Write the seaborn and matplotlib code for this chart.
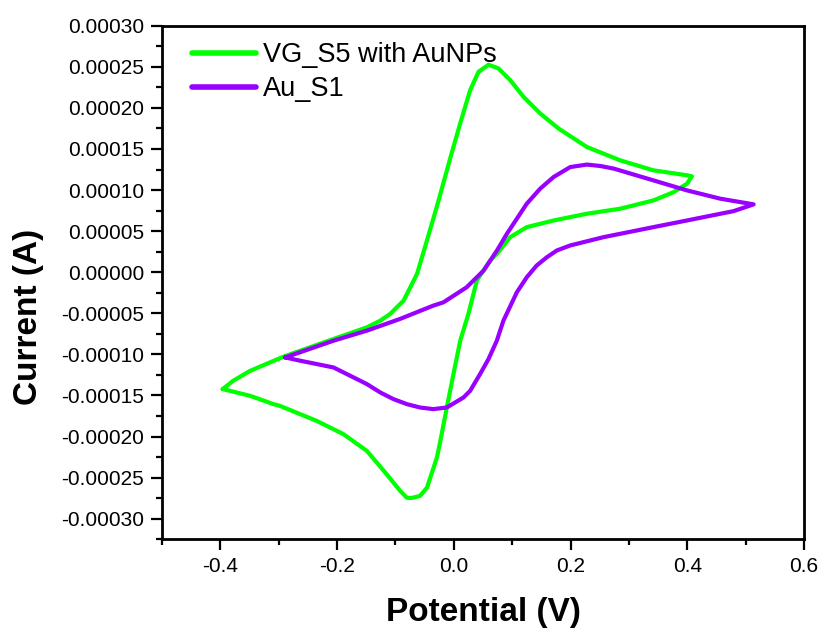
import numpy as np
import pandas as pd
import matplotlib
matplotlib.use("Agg")
import matplotlib.pyplot as plt
import seaborn as sns
from matplotlib.ticker import MultipleLocator, FuncFormatter

# ---- data (potential in V, current in A) ----
vg_potential = [-0.396, -0.378, -0.349, -0.292, -0.206, -0.149, -0.126, -0.109, -0.086, -0.063,
                -0.046, -0.029, -0.0063, 0.0109, 0.028, 0.0423, 0.0595, 0.0766, 0.0966, 0.1195,
                0.148, 0.1795, 0.228, 0.285, 0.342, 0.3995, 0.408,
                0.3995, 0.377, 0.342, 0.285, 0.228, 0.171, 0.125, 0.0966, 0.074, 0.0623,
                0.0395, 0.025, 0.011, -0.0006, -0.012, -0.023, -0.029, -0.046, -0.058, -0.073,
                -0.0805, -0.092, -0.115, -0.149, -0.189, -0.235, -0.298, -0.309, -0.349, -0.396]
vg_current = [-1.422e-4, -1.321e-4, -1.20e-4, -1.028e-4, -0.812e-4, -0.671e-4, -0.589e-4, -0.507e-4, -0.345e-4, -0.02e-4,
              0.387e-4, 0.80e-4, 1.383e-4, 1.81e-4, 2.216e-4, 2.439e-4, 2.525e-4, 2.48e-4, 2.338e-4, 2.134e-4,
              1.932e-4, 1.749e-4, 1.524e-4, 1.362e-4, 1.24e-4, 1.18e-4, 1.167e-4,
              1.078e-4, 0.976e-4, 0.874e-4, 0.773e-4, 0.712e-4, 0.63e-4, 0.549e-4, 0.427e-4, 0.224e-4, 0.143e-4,
              -0.10e-4, -0.507e-4, -0.833e-4, -1.239e-4, -1.646e-4, -2.052e-4, -2.256e-4, -2.622e-4, -2.723e-4, -2.748e-4,
              -2.744e-4, -2.66e-4, -2.459e-4, -2.174e-4, -1.971e-4, -1.809e-4, -1.626e-4, -1.605e-4, -1.504e-4, -1.422e-4]

au_potential = [-0.289, -0.206, -0.149, -0.092, -0.035, -0.0177, 0.022, 0.051, 0.074, 0.091,
                0.125, 0.148, 0.171, 0.1995, 0.228, 0.251, 0.274, 0.342, 0.3995, 0.4566, 0.5137,
                0.4795, 0.3995, 0.342, 0.2566, 0.1995, 0.1766, 0.1595, 0.142, 0.125, 0.108, 0.085,
                0.0737, 0.0595, 0.045, 0.028, 0.0166, -0.012, -0.035, -0.058, -0.0805, -0.1035,
                -0.126, -0.149, -0.206, -0.263, -0.289]
au_current = [-1.037e-4, -0.833e-4, -0.711e-4, -0.568e-4, -0.406e-4, -0.366e-4, -0.183e-4, 0.02e-4, 0.265e-4, 0.468e-4,
              0.834e-4, 1.017e-4, 1.159e-4, 1.28e-4, 1.31e-4, 1.293e-4, 1.261e-4, 1.118e-4, 0.996e-4, 0.895e-4, 0.826e-4,
              0.744e-4, 0.63e-4, 0.549e-4, 0.427e-4, 0.326e-4, 0.265e-4, 0.183e-4, 0.082e-4, -0.061e-4, -0.244e-4, -0.589e-4,
              -0.833e-4, -1.056e-4, -1.239e-4, -1.443e-4, -1.524e-4, -1.646e-4, -1.666e-4, -1.646e-4, -1.605e-4, -1.544e-4,
              -1.463e-4, -1.361e-4, -1.159e-4, -1.077e-4, -1.037e-4]

series_names = ["VG_S5 with AuNPs", "Au_S1"]
series_colors = ["#00ff00", "#9900ff"]

# ---- figure ----
sns.set_style("ticks")
plt.rcParams['font.family'] = ['Liberation Sans', 'DejaVu Sans']
plt.rcParams['axes.unicode_minus'] = False
for k in ['text.color', 'axes.labelcolor', 'xtick.color', 'ytick.color', 'axes.edgecolor']:
    plt.rcParams[k] = 'black'

fig = plt.figure(figsize=(8.21, 6.32), dpi=100)
ax = fig.add_axes([0.1973, 0.1467, 0.782, 0.8126])

df = pd.concat([
    pd.DataFrame({"Potential": vg_potential, "Current": vg_current, "series": series_names[0]}),
    pd.DataFrame({"Potential": au_potential, "Current": au_current, "series": series_names[1]}),
], ignore_index=True)

sns.lineplot(data=df, x="Potential", y="Current", hue="series", units="series",
             estimator=None, sort=False, palette=dict(zip(series_names, series_colors)),
             linewidth=3, ax=ax, legend=True)
for ln in ax.get_lines():
    ln.set_solid_joinstyle("round")
    ln.set_solid_capstyle("round")

ax.set_xlim(-0.5, 0.6)
ax.set_ylim(-0.000325, 0.0003)
ax.xaxis.set_major_locator(MultipleLocator(0.2))
ax.xaxis.set_minor_locator(MultipleLocator(0.1))
ax.yaxis.set_major_locator(MultipleLocator(0.00005))
ax.yaxis.set_minor_locator(MultipleLocator(0.000025))


def _fmt(nd):
    def f(v, pos):
        v = round(v, nd)
        if abs(v) < 10 ** (-nd - 2):
            v = 0.0
        return f"{v:.{nd}f}"
    return FuncFormatter(f)


ax.xaxis.set_major_formatter(_fmt(1))
ax.yaxis.set_major_formatter(_fmt(5))

ax.tick_params(axis="both", which="major", direction="out", length=8, width=1.6,
               labelsize=15, pad=5, colors="black")
ax.tick_params(axis="both", which="minor", direction="out", length=4.5, width=1.6, colors="black")
ax.tick_params(top=False, right=False, which="both")
for s in ax.spines.values():
    s.set_linewidth(2.0)
    s.set_color("black")
    s.set_visible(True)

ax.set_xlabel("Potential (V)", fontsize=24, fontweight="bold", labelpad=15)
ax.set_ylabel("Current (A)", fontsize=24, fontweight="bold")
ax.yaxis.set_label_coords(-0.184, 0.433)

leg = ax.legend(loc="upper left", frameon=False, fontsize=19.5, handlelength=2.35,
                handletextpad=0.27, borderaxespad=0.0, borderpad=0.0, labelspacing=0.3,
                bbox_to_anchor=(0.047, 0.968))
for h in leg.get_lines():
    h.set_linewidth(4)

fig.savefig("out.png", dpi=100)
